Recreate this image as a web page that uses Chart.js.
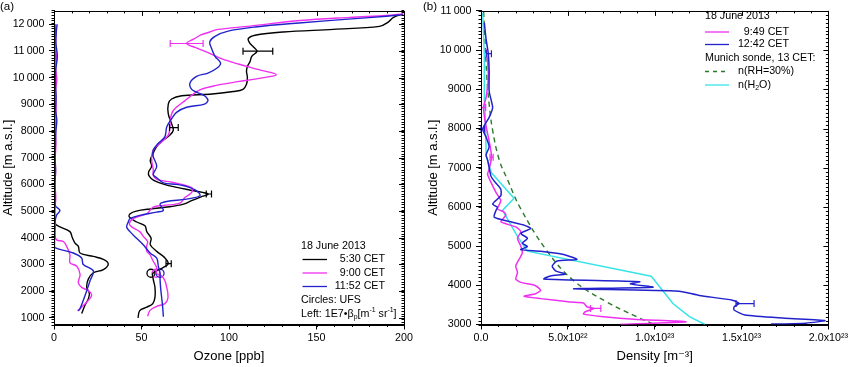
<!DOCTYPE html>
<html>
<head>
<meta charset="utf-8">
<script src="https://cdn.jsdelivr.net/npm/chart.js@4"></script>
<style>
  html, body { margin: 0; padding: 0; background: #fff; }
  #wrap { position: relative; width: 850px; height: 367px; overflow: hidden; }
  canvas { position: absolute; top: 0; }
  #ozoneChart { left: 0; }
  #densityChart { left: 420px; }
</style>
</head>
<body>
<div id="wrap">
  <canvas id="ozoneChart" width="420" height="367"></canvas>
  <canvas id="densityChart" width="430" height="367"></canvas>
</div>
<script>
// ---- panel (a): ozone [ppb] and backscatter vs altitude [m] ----
const ozoneTicks = [0, 50, 100, 150, 200];
const ozoneTickLabels = ['0', '50', '100', '150', '200'];
const altTicksA = [1000, 2000, 3000, 4000, 5000, 6000, 7000, 8000, 9000, 10000, 11000, 12000];
const altTickLabelsA = ['1000', '2000', '3000', '4000', '5000', '6000', '7000', '8000', '9000', '10\u2009000', '11\u2009000', '12\u2009000'];

const ozone0530Alt = [1000, 1270, 1400, 1530, 1770, 2140, 2450, 2670, 2880, 3020, 3245, 3490, 3740, 3980, 4230, 4450, 4600, 4780, 4900, 5000, 5080, 5160, 5260, 5400, 5530, 5640, 5760, 5880, 6000, 6150, 6300, 6450, 6680, 6900, 7170, 7420, 7660, 7850, 8030, 8270, 8640, 9010, 9200, 9320, 9380, 9480, 9560, 9750, 10000, 10240, 10420, 10600, 10800, 10980, 11150, 11280, 11460, 11590, 11710, 11810, 11920, 12080, 12260, 12390];
const ozone0530 = [48, 49, 53, 56.4, 57.7, 57.7, 56.7, 56.5, 62.3, 65.3, 63.4, 58.7, 55, 55.5, 53, 52, 47, 43, 43.5, 47, 55, 66, 74, 79, 84, 88, 80, 71, 63, 57, 54.5, 54, 55.8, 55, 56.7, 58.7, 62.5, 66.3, 68.2, 67.2, 65.3, 65.3, 67.2, 73, 89, 102.5, 108, 110, 110.5, 110, 110.5, 112, 113, 116, 114, 112, 111, 114.9, 131, 159.6, 186, 191, 194, 199.6];

const ozone0900Alt = [1060, 1280, 1430, 1530, 1710, 1950, 2140, 2390, 2570, 2680, 2880, 3120, 3360, 3490, 3700, 3860, 4050, 4230, 4410, 4530, 4720, 4900, 5150, 5210, 5300, 5515, 5700, 5880, 6070, 6190, 6340, 6560, 6925, 7290, 7540, 7850, 8150, 8400, 8770, 9140, 9400, 9560, 9700, 9850, 9980, 10115, 10300, 10500, 10700, 10910, 11100, 11280, 11450, 11600, 11710, 11800, 11930, 12140, 12260, 12330, 12390];
const ozone0900 = [53.5, 54.9, 58.7, 63.4, 65, 65, 64.4, 63.4, 61.5, 58.5, 58.7, 56.7, 54.9, 53, 53, 53.5, 51, 49, 44.4, 43, 45.3, 53, 56.7, 62.5, 72, 74.9, 78.7, 78.7, 68.2, 58.7, 56.7, 56.7, 55.8, 56.7, 60.6, 65.3, 66.3, 66.3, 68.2, 74.9, 80, 84, 92, 105, 118, 127, 117, 106, 96, 89, 82, 75.8, 80, 84, 89, 93, 112, 140.6, 169, 190, 199.5];

const ozone1152Alt = [1040, 1400, 1770, 2140, 2450, 2670, 2940, 3240, 3430, 3740, 3980, 4230, 4410, 4600, 4720, 4840, 4960, 5025, 5150, 5270, 5360, 5450, 5575, 5760, 5940, 6000, 6060, 6250, 6370, 6680, 7050, 7290, 7540, 7790, 8150, 8460, 8700, 8890, 9010, 9150, 9320, 9440, 9560, 9800, 10050, 10170, 10350, 10545, 10800, 11100, 11340, 11550, 11750, 11900, 12050, 12200, 12300, 12360];
const ozone1152 = [62.5, 62.1, 61.5, 60.9, 60.6, 60.6, 59.6, 58.7, 54.9, 51, 47.2, 43.4, 41.5, 42.5, 43.4, 49, 58.7, 62.5, 61.5, 60.6, 64.4, 75.8, 83.4, 81.5, 74.9, 70, 62.5, 58.7, 56.7, 58.7, 56.7, 56.7, 59.6, 63.4, 64.4, 67.2, 70, 75.8, 86, 88, 86, 82, 78.7, 77.7, 81.5, 88, 93, 95.2, 92, 90, 89, 92, 100, 115, 140, 170, 190, 199];

// backscatter, 1E7*beta_p
const bs0530Alt = [1160, 1470, 1710, 1920, 2140, 2450, 2690, 2810, 3020, 3190, 3300, 3430, 3680, 3800, 4000, 4230, 4410, 4530, 4800, 5300, 5800, 6300, 6800, 7300, 7800, 8300, 8800, 9300, 9800, 10300, 10800, 11300, 11800, 12000];
const bs0530 = [15.8, 17.7, 19.6, 20.2, 18.7, 19.6, 22.5, 28.2, 31, 28.2, 22.5, 14.9, 13.9, 12, 10.5, 9.1, 3.4, 0.6, 0.3, 0.5, 0.3, 0.6, 0.4, 0.5, 0.3, 0.6, 0.4, 0.5, 0.7, 0.4, 0.6, 0.5, 0.8, 0.6];
const bs0900Alt = [1260, 1400, 1590, 1840, 2020, 2140, 2320, 2630, 2940, 3060, 3370, 3680, 3860, 3920, 4100, 4500, 5000, 5500, 6000, 6500, 7000, 7500, 8000, 8500, 9000, 9500, 9930, 10300, 10800, 11300, 11800, 12000];
const bs0900 = [13.5, 15.8, 18.7, 21.5, 19.6, 15.8, 13.9, 14.9, 12.9, 9.1, 9.1, 7.2, 5.3, 1.5, 0.6, 0.8, 0.5, 1.0, 0.6, 0.9, 0.7, 1.1, 0.8, 1.0, 1.2, 0.9, 1.6, 1.0, 1.3, 0.9, 1.2, 1.0];
const bs1152Alt = [1260, 1350, 1650, 2020, 2390, 2760, 3000, 3240, 3430, 3630, 3800, 4200, 4600, 4850, 5025, 5200, 5500, 6000, 6500, 7000, 7500, 8000, 8400, 8800, 9300, 9800, 10300, 10800, 11300, 11700, 12000];
const bs1152 = [13.9, 14.9, 16.7, 18.7, 20.6, 22.5, 16.7, 15.8, 11, 0.6, 0.3, 0.4, 0.6, 1.5, 3.4, 0.8, 0.7, 0.5, 0.9, 0.6, 0.8, 1.1, 1.6, 0.9, 1.2, 0.8, 1.0, 1.9, 1.1, 1.3, 1.8];

// UFS circles (5:30, 9:00, 11:52)
const ufsAlt = [2670, 2670, 2670];
const ufsOzone = [55.4, 58.3, 60.6];

// error bars: [altitude, value, half width]
const err0530 = [[10990, 116.5, 8.5], [8130, 68.5, 2.5], [5640, 88.5, 1.5], [3030, 65.5, 1.5]];
const err0900 = [[11280, 75.8, 9.4]];

// ---- panel (b): density, values in units of 1e22 m^-3 ----
const DENS = 1e22;
const densityTicks = [0, 5e22, 1e23, 1.5e23, 2e23];
const densityTickLabels = ['0.0', '5.0x10\u00b2\u00b2', '1.0x10\u00b2\u00b3', '1.5x10\u00b2\u00b3', '2.0x10\u00b2\u00b3'];
const altTicksB = [3000, 4000, 5000, 6000, 7000, 8000, 9000, 10000, 11000];
const altTickLabelsB = ['3000', '4000', '5000', '6000', '7000', '8000', '9000', '10\u2009000', '11\u2009000'];

const dens0949Alt = [3000, 3070, 3135, 3200, 3265, 3325, 3410, 3450, 3550, 3575, 3660, 3720, 3785, 3870, 3990, 4075, 4160, 4325, 4490, 4660, 4825, 5000, 5200, 5370, 5490, 5620, 5785, 5870, 5950, 6160, 6370, 6825, 6965, 7270, 7535, 7870, 8200, 8535, 8785, 9285, 9700, 10035];
const dens0949 = [8.0, 11.8, 8.8, 7.05, 5.9, 6.0, 6.48, 6.1, 5.9, 5.14, 3.43, 2.48, 3.14, 3.43, 3.14, 2.29, 2.0, 2.1, 2.0, 2.19, 2.38, 2.29, 2.1, 2.29, 2.0, 1.14, 1.43, 1.33, 0.95, 1.14, 0.86, 0.38, 0.47, 0.61, 0.53, 0.38, 0.23, 0.15, 0.29, 0.42, 0.38, 0.29];

const dens1242Alt = [3010, 3035, 3100, 3160, 3240, 3370, 3450, 3535, 3620, 3740, 3850, 3910, 3950, 4035, 4090, 4160, 4240, 4285, 4370, 4490, 4620, 4660, 4785, 4870, 4910, 4990, 5075, 5200, 5325, 5450, 5535, 5620, 5740, 5910, 5990, 6075, 6285, 6450, 6660, 6785, 7200, 7325, 7535, 7785, 7990, 8285, 8535, 8950, 9450, 9910, 10285, 10700];
const dens1242 = [16.7, 18.7, 19.8, 17.5, 15.2, 14.57, 14.57, 14.86, 14.48, 12.57, 11.4, 5.33, 9.9, 8.6, 9.14, 3.62, 4.0, 4.86, 4.29, 4.1, 4.38, 5.52, 4.76, 3.43, 2.29, 2.67, 2.38, 2.67, 2.29, 2.86, 2.48, 1.71, 0.76, 0.86, 0.95, 0.67, 1.14, 1.14, 0.76, 0.57, 0.38, 0.29, 0.47, 0.29, 0.1, 0.47, 0.67, 0.47, 0.47, 0.42, 0.29, 0.19];

const h2oAlt = [3000, 3200, 3535, 4230, 4870, 5250, 5910, 6220, 6870, 7300, 8600, 9870, 10950];
const h2o = [12.9, 12.0, 11.05, 9.8, 2.67, 2.1, 1.24, 1.9, 0.6, 0.3, 0.23, 0.19, 0.1];

const rh30Alt = [3015, 3200, 3575, 4120, 4870, 5950, 6700, 7200, 7950, 8620, 9285, 10620, 11000];
const rh30 = [9.9, 8.95, 7.24, 5.33, 3.81, 2.29, 1.52, 1.05, 0.67, 0.47, 0.34, 0.19, 0.15];

const err0949 = [[8535, 0.15, 0.12], [7270, 0.61, 0.09], [3410, 6.6, 0.3]];
const err1242 = [[9910, 0.45, 0.15], [3535, 15.2, 0.52], [7990, 0.1, 0.1]];

const BLACK = '#000000', MAGENTA = '#f030f0', BLUE = '#2222cc', CYAN = '#38e4e8', GREEN = '#2b7a2b';
const FONT = '"Liberation Sans", Arial, "DejaVu Sans", sans-serif';

Chart.defaults.font.family = FONT;
Chart.defaults.color = '#000';

function profile(alts, vals, color, scale, extra) {
    return Object.assign({
        data: alts.map((a, i) => ({x: vals[i] * scale, y: a})),
        showLine: true,
        borderColor: color,
        borderWidth: 1.4,
        pointRadius: 0,
        tension: 0.35,
        fill: false
    }, extra || {});
}

function scaledErrs(errs, scale) {
    return errs.map(([a, v, e]) => [a, v * scale, e * scale]);
}

// minor ticks + mirrored ticks on top and right, Origin style
const frameTicks = {
    id: 'frameTicks',
    afterDraw(chart, args, opts) {
        const {ctx, chartArea: a, scales: {x, y}} = chart;
        const r = v => Math.round(v) + 0.5;
        ctx.save();
        ctx.strokeStyle = '#000';
        ctx.lineWidth = 1;
        ctx.strokeRect(r(a.left), r(a.top), Math.round(a.right) - Math.round(a.left), Math.round(a.bottom) - Math.round(a.top));
        ctx.beginPath();
        const nx = Math.round((x.max - x.min) / opts.xMinor);
        for (let i = 0; i <= nx; i++) {
            const px = r(x.getPixelForValue(x.min + i * opts.xMinor));
            ctx.moveTo(px, a.bottom); ctx.lineTo(px, a.bottom + 2.5);
            ctx.moveTo(px, a.top); ctx.lineTo(px, a.top + 2.5);
        }
        const ny = Math.round((y.max - y.min) / opts.yMinor);
        for (let i = 0; i <= ny; i++) {
            const py = r(y.getPixelForValue(y.min + i * opts.yMinor));
            ctx.moveTo(a.left - 2.5, py); ctx.lineTo(a.left, py);
            ctx.moveTo(a.right - 2.5, py); ctx.lineTo(a.right, py);
        }
        x.ticks.forEach(t => {
            const px = r(x.getPixelForValue(t.value));
            ctx.moveTo(px, a.top); ctx.lineTo(px, a.top + 5);
        });
        y.ticks.forEach(t => {
            const py = r(y.getPixelForValue(t.value));
            ctx.moveTo(a.right - 5, py); ctx.lineTo(a.right, py);
        });
        ctx.stroke();
        ctx.restore();
    }
};

const errorBars = {
    id: 'errorBars',
    afterDatasetsDraw(chart) {
        const {ctx, scales: {x, y}} = chart;
        chart.data.datasets.forEach(ds => {
            if (!ds.errorBars) return;
            ctx.save();
            ctx.strokeStyle = ds.borderColor;
            ctx.lineWidth = 1.2;
            ds.errorBars.forEach(([alt, v, e]) => {
                const py = y.getPixelForValue(alt);
                const x1 = x.getPixelForValue(v - e), x2 = x.getPixelForValue(v + e);
                ctx.beginPath();
                ctx.moveTo(x1, py); ctx.lineTo(x2, py);
                ctx.moveTo(x1, py - 3.5); ctx.lineTo(x1, py + 3.5);
                ctx.moveTo(x2, py - 3.5); ctx.lineTo(x2, py + 3.5);
                ctx.stroke();
            });
            ctx.restore();
        });
    }
};

function drawRich(ctx, parts, x, y, size) {
    let cx = x;
    parts.forEach(p => {
        const s = (p.sup || p.sub) ? size * 0.65 : size;
        ctx.font = s + 'px ' + FONT;
        const dy = p.sup ? -size * 0.38 : (p.sub ? size * 0.3 : 0);
        ctx.fillText(p.t, cx, y + dy);
        cx += ctx.measureText(p.t).width;
    });
}

// panel tag and the hand-laid legend box
const panelText = {
    id: 'panelText',
    afterDraw(chart, args, opts) {
        const ctx = chart.ctx;
        ctx.save();
        ctx.fillStyle = '#000';
        ctx.textBaseline = 'middle';
        ctx.font = '11.6px ' + FONT;
        ctx.textAlign = 'left';
        ctx.fillText(opts.tag.text, opts.tag.x, opts.tag.y);
        opts.rows.forEach(row => {
            if (row.line) {
                ctx.save();
                ctx.strokeStyle = row.line.color;
                ctx.lineWidth = 1.3;
                if (row.line.dash) ctx.setLineDash(row.line.dash);
                ctx.beginPath();
                ctx.moveTo(row.line.x1, row.y);
                ctx.lineTo(row.line.x2, row.y);
                ctx.stroke();
                ctx.restore();
            }
            ctx.fillStyle = '#000';
            if (row.align === 'right') {
                ctx.textAlign = 'right';
                ctx.font = '10.7px ' + FONT;
                ctx.fillText(row.text, row.x, row.y);
                ctx.textAlign = 'left';
            } else {
                drawRich(ctx, row.parts, row.x, row.y, 10.7);
            }
        });
        ctx.restore();
    }
};

function xAxis(min, max, ticks, labels, title, height) {
    return {
        type: 'linear', position: 'bottom', min: min, max: max,
        afterBuildTicks: s => { s.ticks = ticks.map(v => ({value: v})); },
        afterFit: s => { s.height = height; },
        grid: {display: true, drawOnChartArea: false, drawTicks: true, tickLength: 5, color: '#000', lineWidth: 1},
        border: {display: true, color: '#000', width: 1},
        ticks: {color: '#000', font: {size: 10.7}, padding: 2, maxRotation: 0, autoSkip: false,
                 callback: (v, i) => labels[i]},
        title: {display: true, text: title, color: '#000', font: {size: 13}, padding: {top: 0, bottom: 3.2}}
    };
}

function yAxis(min, max, ticks, labels, width, titlePad) {
    return {
        type: 'linear', position: 'left', min: min, max: max,
        afterBuildTicks: s => { s.ticks = ticks.map(v => ({value: v})); },
        afterFit: s => { s.width = width; },
        grid: {display: true, drawOnChartArea: false, drawTicks: true, tickLength: 5, color: '#000', lineWidth: 1},
        border: {display: true, color: '#000', width: 1},
        ticks: {color: '#000', font: {size: 10.7}, padding: 4.5, autoSkip: false,
                 callback: (v, i) => labels[i]},
        title: {display: true, text: 'Altitude [m a.s.l.]', color: '#000', font: {size: 13}, padding: {top: titlePad, bottom: 0}}
    };
}

const baseOptions = {
    responsive: false,
    animation: false,
    devicePixelRatio: 1,
    events: []
};

// panel (a)
const ozoneDatasets = [
    profile(ozone1152Alt, ozone1152, BLUE, 1, {errorBars: []}),
    profile(ozone0900Alt, ozone0900, MAGENTA, 1, {errorBars: err0900}),
    profile(ozone0530Alt, ozone0530, BLACK, 1, {errorBars: err0530}),
    profile(bs1152Alt, bs1152, BLUE, 1),
    profile(bs0900Alt, bs0900, MAGENTA, 1),
    profile(bs0530Alt, bs0530, BLACK, 1),
    {
        data: ufsAlt.map((a, i) => ({x: ufsOzone[i], y: a})),
        showLine: false,
        pointRadius: 4,
        pointStyle: 'circle',
        pointBackgroundColor: 'rgba(0,0,0,0)',
        pointBorderColor: [BLACK, MAGENTA, BLUE],
        pointBorderWidth: 1.3
    }
];

new Chart(document.getElementById('ozoneChart'), {
    type: 'scatter',
    data: {datasets: ozoneDatasets},
    options: Object.assign({}, baseOptions, {
        layout: {padding: {top: 5, right: 16, left: 0, bottom: 0}},
        plugins: {
            legend: {display: false},
            tooltip: {enabled: false},
            frameTicks: {xMinor: 10, yMinor: 100},
            panelText: {
                tag: {text: '(a)', x: 0, y: 7},
                rows: [
                    {y: 246, x: 301, parts: [{t: '18 June 2013'}]},
                    {y: 259.5, x: 385, align: 'right', text: '5:30 CET', line: {x1: 302.5, x2: 327, color: BLACK}},
                    {y: 273, x: 385, align: 'right', text: '9:00 CET', line: {x1: 302.5, x2: 327, color: MAGENTA}},
                    {y: 286.5, x: 385, align: 'right', text: '11:52 CET', line: {x1: 302.5, x2: 327, color: BLUE}},
                    {y: 300.5, x: 301, parts: [{t: 'Circles: UFS'}]},
                    {y: 314, x: 301, parts: [{t: 'Left: 1E7\u2022\u03b2'}, {t: 'p', sub: true}, {t: '[m'}, {t: '-1', sup: true}, {t: ' sr'}, {t: '-1', sup: true}, {t: ']'}]}
                ]
            }
        },
        scales: {
            x: xAxis(0, 200, ozoneTicks, ozoneTickLabels, 'Ozone [ppb]', 42.5),
            y: yAxis(750, 12500, altTicksA, altTickLabelsA, 54, 0.2)
        }
    }),
    plugins: [errorBars, frameTicks, panelText]
});

// panel (b)
const densityDatasets = [
    profile(dens1242Alt, dens1242, BLUE, DENS, {tension: 0.2, borderWidth: 1.5, errorBars: scaledErrs(err1242, DENS)}),
    profile(dens0949Alt, dens0949, MAGENTA, DENS, {tension: 0.2, borderWidth: 1.5, errorBars: scaledErrs(err0949, DENS)}),
    profile(h2oAlt, h2o, CYAN, DENS, {tension: 0, borderWidth: 1.5}),
    profile(rh30Alt, rh30, GREEN, DENS, {tension: 0.4, borderWidth: 1.4, borderDash: [5, 4]})
];

new Chart(document.getElementById('densityChart'), {
    type: 'scatter',
    data: {datasets: densityDatasets},
    options: Object.assign({}, baseOptions, {
        layout: {padding: {top: 5, right: 20, left: 0, bottom: 0}},
        plugins: {
            legend: {display: false},
            tooltip: {enabled: false},
            frameTicks: {xMinor: 1e22, yMinor: 100},
            panelText: {
                tag: {text: '(b)', x: 3, y: 7},
                rows: [
                    {y: 16.5, x: 285, parts: [{t: '18 June 2013'}]},
                    {y: 32, x: 369, align: 'right', text: '9:49 CET', line: {x1: 285, x2: 309, color: MAGENTA}},
                    {y: 44.5, x: 369, align: 'right', text: '12:42 CET', line: {x1: 285, x2: 309, color: BLUE}},
                    {y: 58.5, x: 285, parts: [{t: 'Munich sonde, 13 CET:'}]},
                    {y: 71.5, x: 318, parts: [{t: 'n(RH=30%)'}], line: {x1: 285, x2: 309, color: GREEN, dash: [4, 4]}},
                    {y: 85, x: 318, parts: [{t: 'n(H'}, {t: '2', sub: true}, {t: 'O)'}], line: {x1: 285, x2: 309, color: CYAN}}
                ]
            }
        },
        scales: {
            x: xAxis(0, 2e23, densityTicks, densityTickLabels, 'Density [m\u207b\u00b3]', 42.5),
            y: yAxis(3000, 11000, altTicksB, altTickLabelsB, 61, 5.2)
        }
    }),
    plugins: [errorBars, frameTicks, panelText]
});
</script>
</body>
</html>
